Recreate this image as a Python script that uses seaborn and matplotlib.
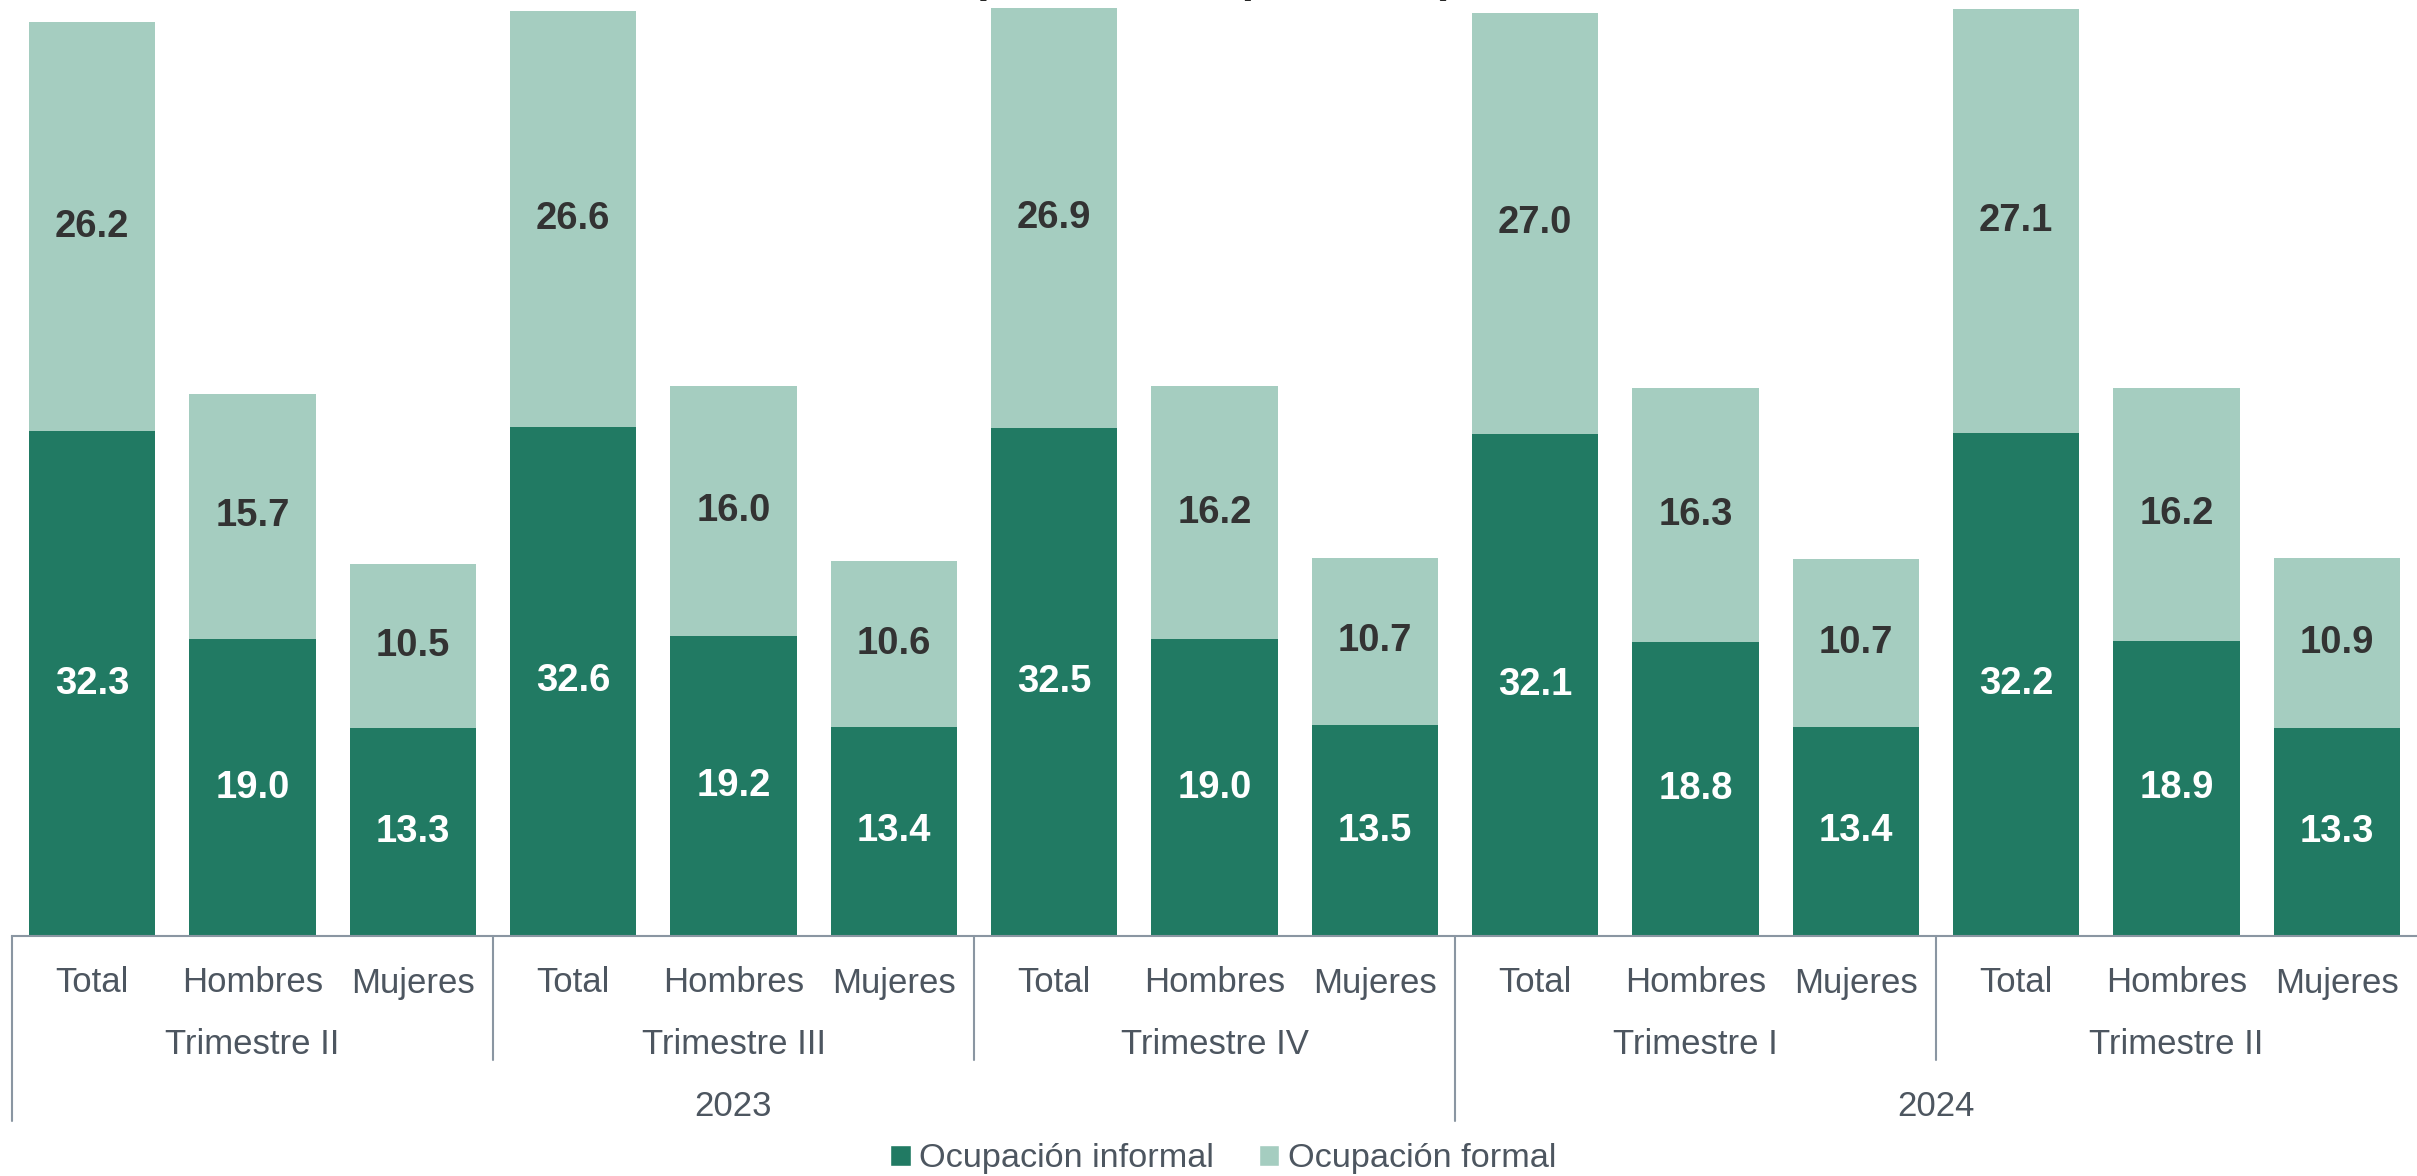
import matplotlib
matplotlib.use("Agg")
import matplotlib.pyplot as plt
import matplotlib.transforms as mtransforms
from matplotlib.patches import Patch
import numpy as np
import pandas as pd
import seaborn as sns

# datos (millones de personas)
sexos = ["Total", "Hombres", "Mujeres"]
trimestres = ["Trimestre II", "Trimestre III", "Trimestre IV", "Trimestre I", "Trimestre II"]
anios = ["2023", "2024"]
trim_por_anio = [3, 2]
informal = [32.3, 19.0, 13.3, 32.6, 19.2, 13.4, 32.5, 19.0, 13.5, 32.1, 18.8, 13.4, 32.2, 18.9, 13.3]
formal = [26.2, 15.7, 10.5, 26.6, 16.0, 10.6, 26.9, 16.2, 10.7, 27.0, 16.3, 10.7, 27.1, 16.2, 10.9]

c_inf = "#217A63"
c_for = "#A5CDC0"
c_txt = "#4D5660"
c_lin = "#8A96A2"

sns.set_style("white")
plt.rcParams["font.family"] = ["Liberation Sans", "DejaVu Sans"]

claves = [f"{i}" for i in range(len(informal))]
df = pd.DataFrame({"clave": claves,
                   "informal": informal,
                   "formal": formal})
df["total"] = df["informal"] + df["formal"]

W, H = 2417, 1176
fig = plt.figure(figsize=(W / 100, H / 100), dpi=100)
base = 936
ax = fig.add_axes([12 / W, (H - base) / H, 1 - 12 / W, base / H])

sns.barplot(data=df, x="clave", y="total", color=c_for, saturation=1, width=0.79,
            linewidth=0, ax=ax, order=claves)
sns.barplot(data=df, x="clave", y="informal", color=c_inf, saturation=1, width=0.79,
            linewidth=0, ax=ax, order=claves)

ax.set_xlim(-0.5, len(claves) - 0.5)
ax.set_ylim(0, 59.9)
ax.set_xlabel("")
ax.set_ylabel("")
ax.set_yticks([])
ax.set_xticks([])
for s in ["top", "right", "left"]:
    ax.spines[s].set_visible(False)
ax.spines["bottom"].set_color(c_lin)
ax.spines["bottom"].set_linewidth(1.5)

# etiquetas de valores
for i, (a, b) in enumerate(zip(informal, formal)):
    ax.text(i, a / 2, f"{a:.1f}", ha="center", va="center", color="white",
            fontsize=27.5, fontweight="bold")
    ax.text(i, a + b / 2, f"{b:.1f}", ha="center", va="center", color="#333333",
            fontsize=27.5, fontweight="bold")

# ejes jerárquicos
tr = mtransforms.blended_transform_factory(ax.transData, ax.transAxes)
def ya(px):
    return (base - px) / base

for i in range(len(claves)):
    ax.text(i, ya(983), sexos[i % 3], transform=tr, ha="center", va="center",
            fontsize=25, color=c_txt)
for j, t in enumerate(trimestres):
    ax.text(3 * j + 1, ya(1044), t, transform=tr, ha="center", va="center",
            fontsize=25, color=c_txt)

inicio = 0
for an, n in zip(anios, trim_por_anio):
    fin = inicio + 3 * n
    ax.text((inicio + fin - 1) / 2, ya(1107), an, transform=tr, ha="center",
            va="center", fontsize=25, color=c_txt)
    inicio = fin

ax.plot([-0.5, -0.5], [0, ya(1121)], transform=tr, color=c_lin, lw=1.5, clip_on=False)
for j in range(1, len(trimestres)):
    xs = 3 * j - 0.5
    fondo = ya(1121) if j == 3 else ya(1060)
    ax.plot([xs, xs], [0, fondo], transform=tr, color=c_lin, lw=1.5, clip_on=False)

# título recortado en el original
fig.text(0.502, 1 + 8 / H, "(Millones de personas)", ha="center", va="baseline",
         fontsize=32, fontweight="bold", color="#262626")

handles = [Patch(facecolor=c_inf, label="Ocupación informal"),
           Patch(facecolor=c_for, label="Ocupación formal")]
fig.legend(handles=handles, loc="center", bbox_to_anchor=(0.506, 1 - 1159 / H),
           ncol=2, frameon=False, fontsize=24.7, handlelength=0.6, handleheight=0.6,
           handletextpad=0.25, columnspacing=1.3, labelcolor=c_txt)

fig.savefig("out.png", dpi=100)
